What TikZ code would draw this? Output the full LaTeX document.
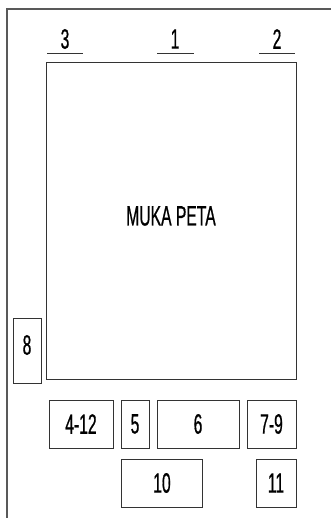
\documentclass[tikz,border=0pt]{standalone}
\usepackage{fontspec}
\setmainfont{Liberation Sans}[FakeStretch=0.56,FakeBold=0.6]
\begin{document}
\begin{tikzpicture}[x=1pt,y=-1pt,
  box/.style={draw=black!80,line width=0.9pt,fill=none},
  lbl/.style={font=\fontsize{28}{30}\selectfont,inner sep=0pt,anchor=center},
  uline/.style={draw=black!80,line width=1pt}]
\useasboundingbox (0,0) rectangle (331,518);
\fill[white] (0,0) rectangle (331,518);
% outer frame
\coordinate (ftl) at (7,9);
\coordinate (ftr) at (331,9);
\coordinate (fbl) at (7,518);
\draw[draw=black!65,line width=1.6pt] (fbl) -- (ftl) -- (ftr);
% main map face
\draw[box] (46,62) rectangle (296,379);
\node[lbl] (muka) at (171,216) {MUKA PETA};
% top labels with underlines
\node[lbl] (t3) at (65,39) {3};
\node[lbl] (t1) at (175,39) {1};
\node[lbl] (t2) at (277,39) {2};
\draw[uline] (47,54) -- (83,54);
\draw[uline] (157,54) -- (194,54);
\draw[uline] (259,54) -- (295,54);
% box 8
\draw[box] (13,318) rectangle (41,383);
\node[lbl] (b8) at (27,345) {8};
% bottom row 1
\draw[box] (49,400) rectangle (113,448);
\node[lbl] (b412) at (81,424) {4-12};
\draw[box] (121,400) rectangle (149,448);
\node[lbl] (b5) at (135,424) {5};
\draw[box] (157,400) rectangle (239,448);
\node[lbl] (b6) at (198,424) {6};
\draw[box] (247,400) rectangle (296,448);
\node[lbl] (b79) at (271.5,424) {7-9};
% bottom row 2
\draw[box] (121,459) rectangle (202,507);
\node[lbl] (b10) at (162,483) {10};
\draw[box] (256,459) rectangle (296,507);
\node[lbl] (b11) at (276,483) {11};
\end{tikzpicture}
\end{document}
